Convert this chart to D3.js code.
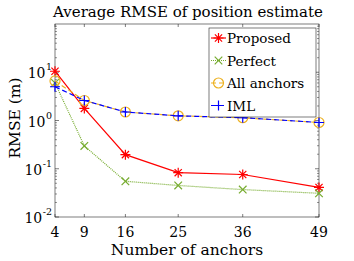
<!DOCTYPE html>
<html>
<head>
<meta charset="utf-8">
<script src="https://cdn.jsdelivr.net/npm/d3@7"></script>
<style>
body { margin: 0; background: #fff; }
</style>
</head>
<body>
<svg width="354" height="261"></svg>
<script>
var anchors = [4, 9, 16, 25, 36, 49];
var proposed = [10.5, 1.78, 0.196, 0.083, 0.076, 0.041];
var perfect = [6.0, 0.297, 0.055, 0.045, 0.037, 0.031];
var allAnchors = [6.6, 2.6, 1.5, 1.25, 1.14, 0.91];
var iml = [5.0, 2.6, 1.5, 1.25, 1.14, 0.91];
var yTicks = [-2, -1, 0, 1]; // exponents
var seriesNames = ["Proposed", "Perfect", "All anchors", "IML"];

var padL = 55, padR = 319, padT = 24, padB = 217;
var svg = d3.select("svg");
var font = "DejaVu Serif";

var x = d3.scaleLinear().domain([4, 49]).range([padL, padR]);
var y = d3.scaleLog().domain([0.01, 100]).range([padB, padT]);

var axisColor = "#262626";

// 枠
svg.append("rect").attr("x", padL).attr("y", padT)
    .attr("width", padR - padL).attr("height", padB - padT)
    .attr("fill", "none").attr("stroke", axisColor).attr("stroke-width", 0.6);

// x ticks
var g = svg.append("g").attr("font-family", font);
anchors.forEach(function(v) {
    g.append("line").attr("x1", x(v)).attr("x2", x(v)).attr("y1", padB).attr("y2", padB - 3)
        .attr("stroke", axisColor).attr("stroke-width", 0.6);
    g.append("line").attr("x1", x(v)).attr("x2", x(v)).attr("y1", padT).attr("y2", padT + 3)
        .attr("stroke", axisColor).attr("stroke-width", 0.6);
    g.append("text").attr("x", x(v)).attr("y", padB + 20)
        .attr("text-anchor", "middle").attr("font-size", 14).text(v);
});

// y ticks（主・副）
for (var e = -2; e < 2; e++) {
    for (var m = 2; m <= 9; m++) {
        var yy = y(m * Math.pow(10, e));
        g.append("line").attr("x1", padL).attr("x2", padL + 2).attr("y1", yy).attr("y2", yy)
            .attr("stroke", axisColor).attr("stroke-width", 0.5);
        g.append("line").attr("x1", padR).attr("x2", padR - 2).attr("y1", yy).attr("y2", yy)
            .attr("stroke", axisColor).attr("stroke-width", 0.5);
    }
}
yTicks.forEach(function(ex) {
    var yy = y(Math.pow(10, ex));
    g.append("line").attr("x1", padL).attr("x2", padL + 4).attr("y1", yy).attr("y2", yy)
        .attr("stroke", axisColor).attr("stroke-width", 0.6);
    g.append("line").attr("x1", padR).attr("x2", padR - 4).attr("y1", yy).attr("y2", yy)
        .attr("stroke", axisColor).attr("stroke-width", 0.6);
    var sup = g.append("text").attr("x", 52).attr("y", yy - 2)
        .attr("text-anchor", "end").attr("font-size", 9.5).text(ex < 0 ? "-" + (-ex) : ex);
    var w = sup.node().getComputedTextLength();
    g.append("text").attr("x", 52 - w - 0.5).attr("y", yy + 6)
        .attr("text-anchor", "end").attr("font-size", 14).text("10");
});

// labels
var lab = svg.append("g").attr("font-family", font);
lab.append("text").attr("x", 188).attr("y", 17).attr("text-anchor", "middle")
    .attr("font-size", 15).text("Average RMSE of position estimate");
lab.append("text").attr("x", 187).attr("y", 255).attr("text-anchor", "middle")
    .attr("font-size", 15.5).text("Number of anchors");
lab.append("text").attr("transform", "translate(20," + 118 + ") rotate(-90)")
    .attr("text-anchor", "middle").attr("font-size", 15.5).text("RMSE (m)");

var series = [
    { name: seriesNames[0], values: proposed, color: "#ff0000", dash: null, marker: "star" },
    { name: seriesNames[1], values: perfect, color: "#77ac30", dash: "1,1", marker: "x" },
    { name: seriesNames[2], values: allAnchors, color: "#edb120", dash: "5,3", marker: "circle" },
    { name: seriesNames[3], values: iml, color: "#0000ff", dash: "5,3", marker: "plus" }
];

function drawMarker(sel, type, cx, cy, color) {
    var r = 5;
    if (type == "circle") {
        sel.append("circle").attr("cx", cx).attr("cy", cy).attr("r", r)
            .attr("fill", "none").attr("stroke", color).attr("stroke-width", 1.2);
        return;
    }
    var p = "";
    if (type == "plus" || type == "star") p += "M" + (cx - r) + "," + cy + "H" + (cx + r) + "M" + cx + "," + (cy - r) + "V" + (cy + r);
    if (type == "x" || type == "star") {
        var k = type == "x" ? 3.8 : 3.6;
        p += "M" + (cx - k) + "," + (cy - k) + "L" + (cx + k) + "," + (cy + k) + "M" + (cx - k) + "," + (cy + k) + "L" + (cx + k) + "," + (cy - k);
    }
    sel.append("path").attr("d", p).attr("stroke", color).attr("stroke-width", 1.2).attr("fill", "none");
}

var line = d3.line().x(function(d, i) { return x(anchors[i]); }).y(function(d) { return y(d); });

series.forEach(function(s) {
    svg.append("path").datum(s.values).attr("d", line)
        .attr("fill", "none").attr("stroke", s.color).attr("stroke-width", 1.2)
        .attr("stroke-dasharray", s.dash);
    s.values.forEach(function(v, i) {
        drawMarker(svg, s.marker, x(anchors[i]), y(v), s.color);
    });
});

// 凡例
var lg = svg.append("g").attr("font-family", font);
lg.append("rect").attr("x", 209).attr("y", 28).attr("width", 107).attr("height", 89)
    .attr("fill", "#fff").attr("stroke", axisColor).attr("stroke-width", 0.6);
series.forEach(function(s, i) {
    var ly = 38 + i * 22.5;
    lg.append("line").attr("x1", 211).attr("x2", 226).attr("y1", ly).attr("y2", ly)
        .attr("stroke", s.color).attr("stroke-width", 1.2).attr("stroke-dasharray", s.dash);
    drawMarker(lg, s.marker, 218.5, ly, s.color);
    lg.append("text").attr("x", 227).attr("y", ly + 5).attr("font-size", 13.5).text(s.name);
});
</script>
</body>
</html>
